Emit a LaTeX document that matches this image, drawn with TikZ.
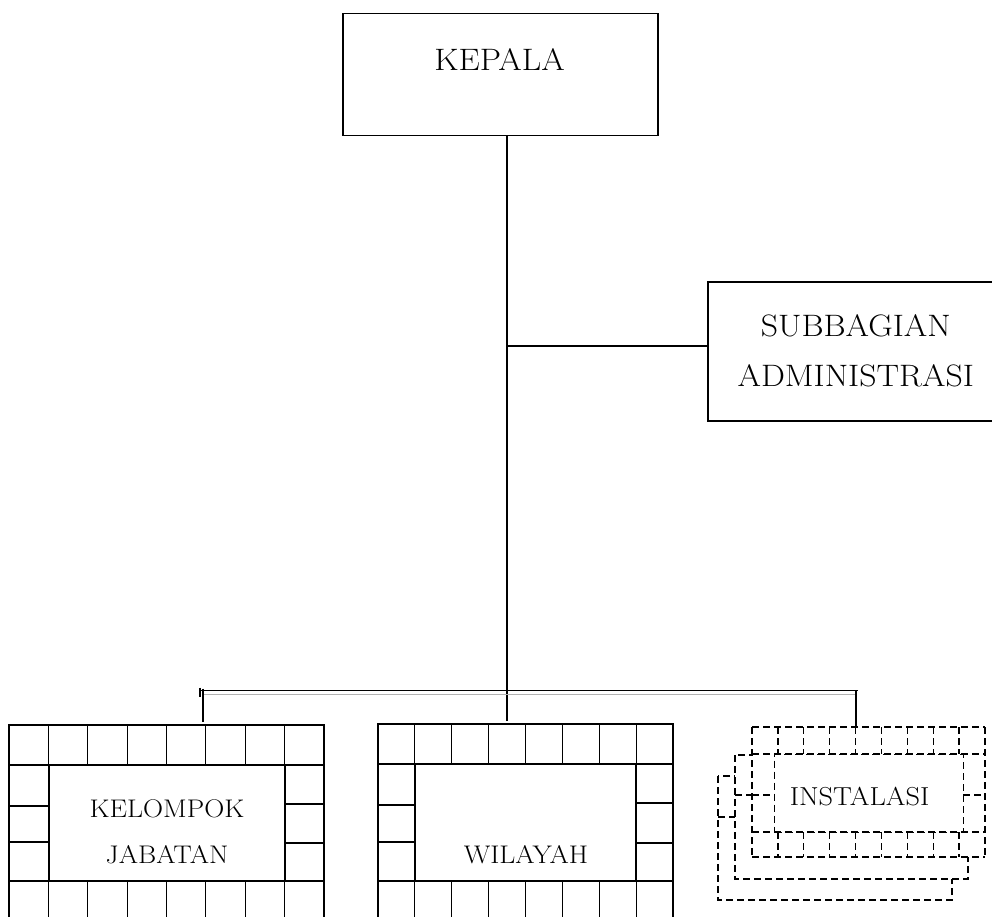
\documentclass[tikz,border=0pt]{standalone}
\usepackage{fontspec}
\usepackage{graphicx}
\newcommand{\stretchtxt}[1]{\scalebox{1.09}[1]{#1}}
\begin{document}
\begin{tikzpicture}[x=1pt,y=-1pt,
  box/.style={draw, line width=1.5pt, inner sep=0pt},
  cell/.style={draw, line width=1.1pt},
  dline/.style={line width=1.3pt, dash pattern=on 7pt off 4pt},
  conn/.style={line width=1.3pt},
  bigtext/.style={font=\fontsize{31}{50}\selectfont},
  smalltext/.style={font=\fontsize{25.5}{46}\selectfont}]
\useasboundingbox (0,0) rectangle (992,917);
\clip (0,0) rectangle (992,917);

% top boxes
\node[box, anchor=north west, minimum width=315pt, minimum height=122pt] (kepala) at (342,13) {};
\node[bigtext, anchor=base] (kepalaT) at (499.5,71) {\stretchtxt{KEPALA}};
\node[box, anchor=north west, minimum width=296pt, minimum height=139pt, align=center, bigtext] (sub) at (707,281) {\stretchtxt{SUBBAGIAN}\\\stretchtxt{ADMINISTRASI}};

% left grid box
\foreach \i in {0,...,7} {
  \draw[cell] ({9+\i*39.375},725) rectangle ++(39.375,40);
  \draw[cell] ({9+\i*39.375},881) rectangle ++(39.375,45);
}
\foreach \a/\b in {765/806,806/842,842/881} \draw[cell] (9,\a) rectangle (49,\b);
\foreach \a/\b in {765/804,804/843,843/881} \draw[cell] (285,\a) rectangle (324,\b);
\node[cell, anchor=north west, minimum width=236pt, minimum height=116pt, inner sep=0pt] (kelompok) at (49,765) {};
\node[smalltext, anchor=base] (kelompokT1) at (167,817) {\stretchtxt{KELOMPOK}};
\node[smalltext, anchor=base] (kelompokT2) at (167,863) {\stretchtxt{JABATAN}};
\coordinate (kTop) at (203,725);

% middle grid box
\foreach \i in {0,...,7} {
  \draw[cell] ({378+\i*36.875},724) rectangle ++(36.875,40);
  \draw[cell] ({378+\i*36.875},881) rectangle ++(36.875,45);
}
\foreach \a/\b in {764/805,805/842,842/881} \draw[cell] (378,\a) rectangle (415,\b);
\foreach \a/\b in {764/803,803/843,843/881} \draw[cell] (636,\a) rectangle (673,\b);
\node[cell, anchor=north west, minimum width=221pt, minimum height=117pt, inner sep=0pt] (wilayah) at (415,764) {};
\node[smalltext, anchor=base] (wilayahT) at (526,863) {\stretchtxt{WILAYAH}};
\coordinate (wTop) at (507,721);

% dashed stack
\draw[dline, fill=white] (718,776) rectangle (952,900);
\draw[dline] (718,817) -- (735,817);
\draw[dline, fill=white] (735,755) rectangle (968,879);
\draw[dline] (735,795) -- (752,795);
\fill[white] (752,727) rectangle (985,857);
\foreach \yy in {727,754,832,857} \draw[dline] (752,\yy) -- (985,\yy);
\draw[dline] (752,727) -- (752,857);
\draw[dline] (985,727) -- (985,857);
\foreach \i in {1,...,8} {
  \draw[dline] ({752+\i*25.89},727) -- ({752+\i*25.89},754);
  \draw[dline] ({752+\i*25.89},832) -- ({752+\i*25.89},857);
}
\draw[dline] (752,795) -- (774,795);
\draw[dline] (963,795) -- (985,795);
\node[draw, dline, anchor=north west, minimum width=189pt, minimum height=78pt, inner sep=0pt] (instalasi) at (774,754) {};
\node[font=\fontsize{26}{30}\selectfont, anchor=base] (instalasiT) at (859.5,805) {\stretchtxt{INSTALASI}};
\coordinate (iTop) at (856,727);

% connectors
\coordinate (tx) at (507,0);
\coordinate (j1) at (507,346);
\coordinate (busL) at (203,690.5);
\coordinate (busR) at (856,690.5);
\draw[conn] (kepala.south -| tx) -- (wTop);
\draw[conn] (j1) -- (j1 -| sub.west);
\draw[conn] ([xshift=-3pt]busL) -- ([xshift=2pt]busR);
\draw[gray!60, line width=1pt] ([yshift=-3.5pt]busL) -- ([yshift=-3.5pt]busR);
\draw[conn] ([xshift=-3pt,yshift=3pt]busL) -- ([xshift=-3pt,yshift=-6.5pt]busL);
\draw[conn] ([yshift=2pt]busL) -- ([yshift=3pt]kTop);
\draw[conn] (busR) -- (iTop);
\end{tikzpicture}
\end{document}
